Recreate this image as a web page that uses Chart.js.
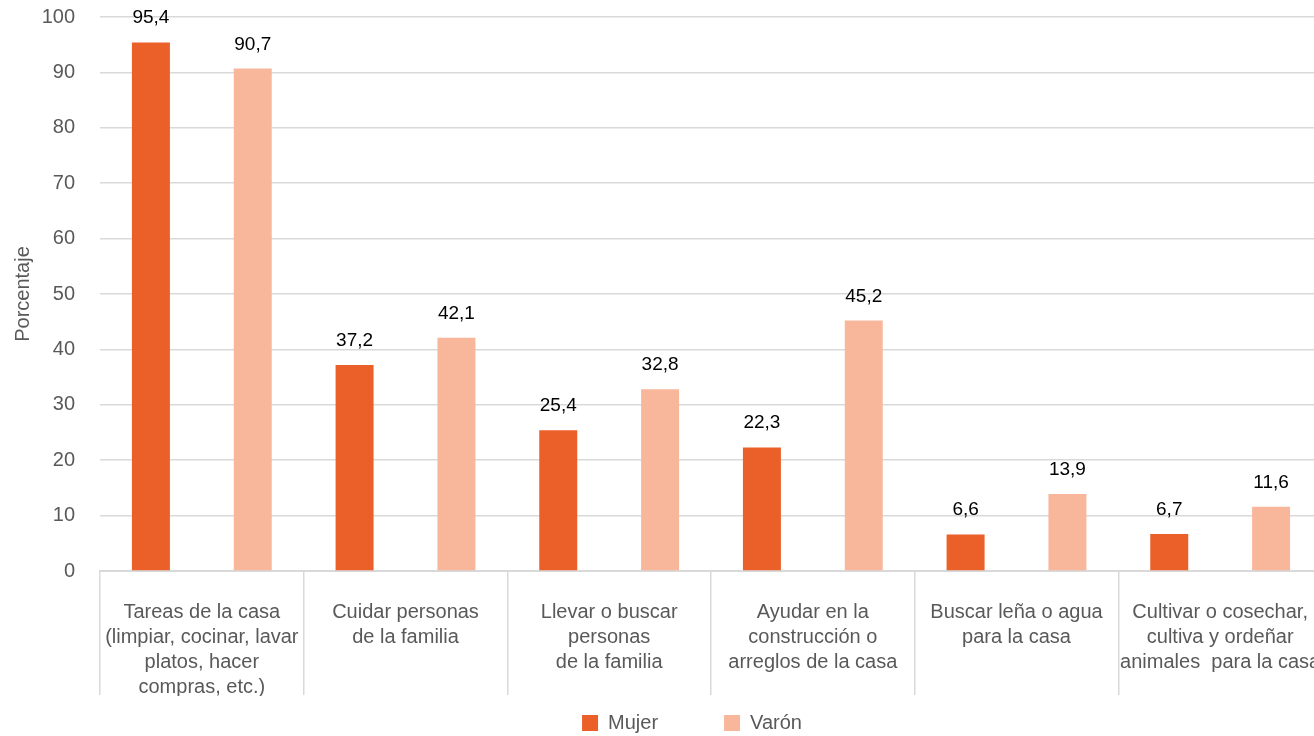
<!DOCTYPE html>
<html>
<head>
<meta charset="utf-8">
<script src="https://cdn.jsdelivr.net/npm/chart.js@4/dist/chart.umd.min.js"></script>
<style>
html,body{margin:0;padding:0;overflow:hidden;background:#fff;width:1314px;height:736px}
#wrap{position:relative;width:1330px;height:736px}
</style>
</head>
<body>
<div id="wrap"><canvas id="c" width="1330" height="736"></canvas></div>
<script>
const categories = [
  ["Tareas de la casa", "(limpiar, cocinar, lavar", "platos, hacer", "compras, etc.)"],
  ["Cuidar personas", "de la familia"],
  ["Llevar o buscar", "personas", "de la familia"],
  ["Ayudar en la", "construcción o", "arreglos de la casa"],
  ["Buscar leña o agua", "para la casa"],
  ["Cultivar o cosechar,", "cultiva y ordeñar", "animales  para la casa"]
];
const mujer = [95.4, 37.2, 25.4, 22.3, 6.6, 6.7];
const varon = [90.7, 42.1, 32.8, 45.2, 13.9, 11.6];
const seriesNames = ["Mujer", "Varón"];
const yMin = 0, yMax = 100, yStep = 10;
const yTitle = "Porcentaje";

const FONT = '"Liberation Sans", Arial, Helvetica, sans-serif';
const GRAY = '#595959';
const GRID = '#d9d9d9';

Chart.defaults.font.family = FONT;
Chart.defaults.font.size = 20;
Chart.defaults.color = GRAY;

const fmt = v => v.toFixed(1).replace('.', ',');

const valueLabels = {
  id: 'valueLabels',
  afterDatasetsDraw(chart) {
    const ctx = chart.ctx;
    ctx.save();
    ctx.font = '19px ' + FONT;
    ctx.fillStyle = '#000';
    ctx.textAlign = 'center';
    ctx.textBaseline = 'alphabetic';
    chart.data.datasets.forEach((ds, i) => {
      const meta = chart.getDatasetMeta(i);
      meta.data.forEach((bar, j) => {
        ctx.fillText(fmt(ds.data[j]), bar.x, bar.y - 19);
      });
    });
    ctx.restore();
  }
};

const legendPlace = {
  id: 'legendPlace',
  afterLayout(chart) {
    const lg = chart.legend;
    if (!lg) return;
    const pad = lg.options.labels.padding;
    const rowTop = chart.chartArea.bottom + 142;
    lg.top = rowTop - pad;
    lg.bottom = chart.height;
    lg.height = lg.bottom - lg.top;
    const half = (lg.right - lg.left) / 2;
    const cx = 692;
    lg.left = cx - half;
    lg.right = cx + half;
  }
};

new Chart(document.getElementById('c'), {
  type: 'bar',
  data: {
    labels: categories,
    datasets: [
      { label: seriesNames[0], data: mujer, backgroundColor: '#EB5F29', borderWidth: 0,
        categoryPercentage: 1.0, barPercentage: 0.373 },
      { label: seriesNames[1], data: varon, backgroundColor: '#F8B79B', borderWidth: 0,
        categoryPercentage: 1.0, barPercentage: 0.373 }
    ]
  },
  options: {
    responsive: false,
    animation: false,
    devicePixelRatio: 1,
    layout: { padding: { top: 0, right: 8, bottom: 0, left: 0 } },
    plugins: {
      tooltip: { enabled: false },
      legend: {
        position: 'bottom',
        maxHeight: 40,
        labels: {
          boxWidth: 16, boxHeight: 16, padding: 66,
          color: GRAY, font: { size: 20, family: FONT }
        }
      }
    },
    scales: {
      x: {
        position: 'bottom',
        grid: {
          display: true, drawOnChartArea: false, drawTicks: true,
          tickLength: 124, color: GRID, lineWidth: 1.5, offset: true
        },
        border: { display: true, color: GRID, width: 2 },
        ticks: {
          color: GRAY, font: { size: 20, family: FONT, lineHeight: 1.25 },
          padding: -95, maxRotation: 0, minRotation: 0, autoSkip: false
        },
        afterFit(scale) { scale.height = 125; }
      },
      y: {
        min: yMin, max: yMax,
        grid: { color: GRID, lineWidth: 1.5, drawTicks: false },
        border: { display: false },
        ticks: { stepSize: yStep, color: GRAY, padding: 25, font: { size: 20, family: FONT } },
        title: { display: true, text: yTitle, color: GRAY, font: { size: 20, family: FONT },
          padding: { top: 11, bottom: 0 } },
        afterFit(scale) { scale.width = 100; scale.paddingTop = 17; }
      }
    }
  },
  plugins: [valueLabels, legendPlace]
});
</script>
</body>
</html>
